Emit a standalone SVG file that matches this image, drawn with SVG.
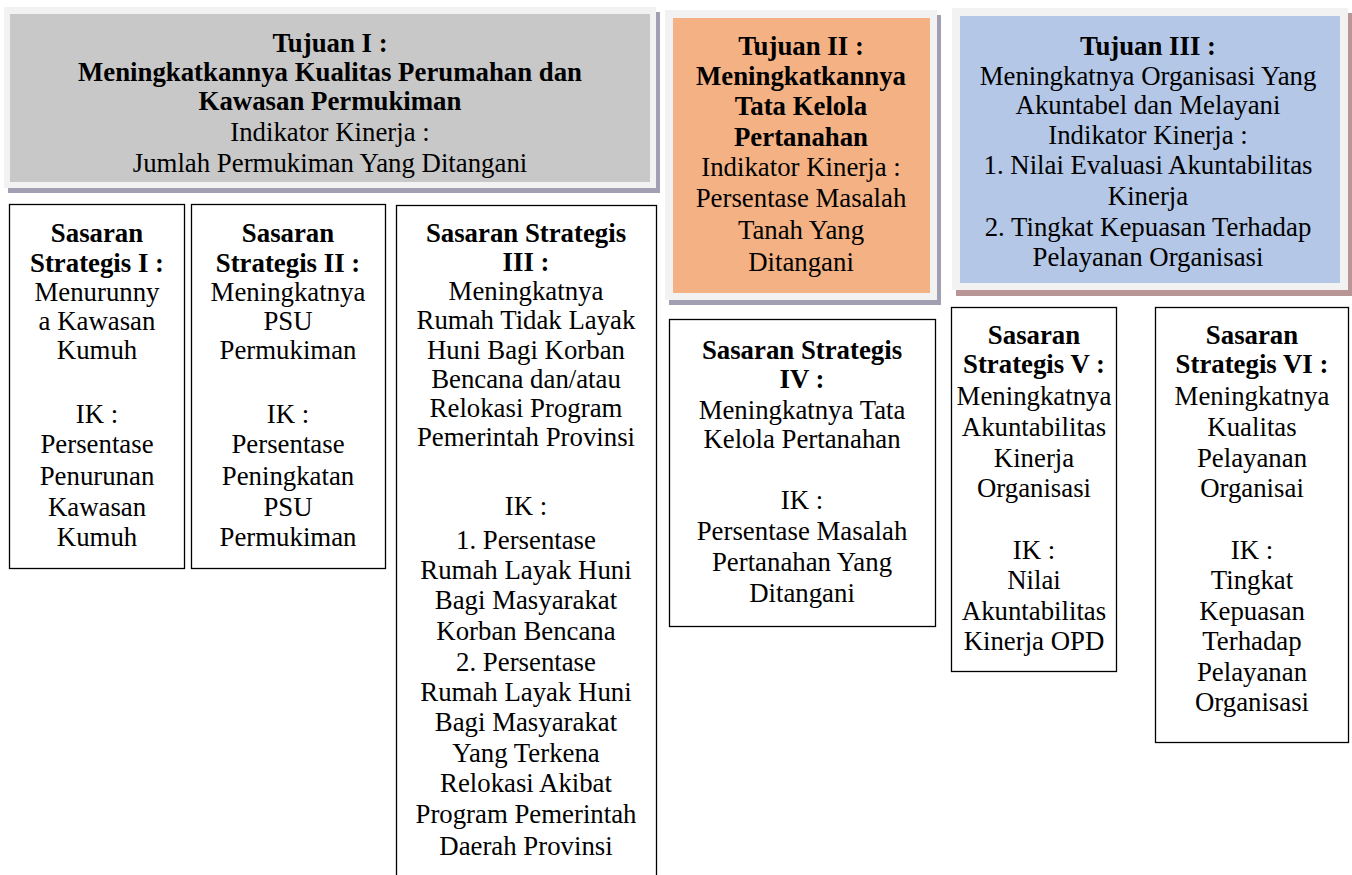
<svg xmlns="http://www.w3.org/2000/svg" width="1352" height="875" viewBox="0 0 1352 875">
<style>
text{font-family:"Liberation Serif","Times New Roman",serif;font-size:26.8px;fill:#000;text-anchor:middle}
.b{font-weight:bold}
.frame{fill:#f2f2f2}
.sh1{fill:#a39fb3}
.sh3{fill:#b89696}
.box{fill:#fff;stroke:#000;stroke-width:1.3}
</style>
<rect width="1352" height="875" fill="#fff"/>
<g id="tujuan1">
<rect class="sh1" x="8" y="12" width="652" height="181"/>
<rect class="frame" x="4" y="7" width="652" height="181"/>
<rect x="10" y="14" width="640" height="168" fill="#c8c8c8"/>
<text class="b" x="330" y="52">Tujuan I :</text>
<text class="b" x="330" y="81">Meningkatkannya Kualitas Perumahan dan</text>
<text class="b" x="330" y="110">Kawasan Permukiman</text>
<text x="330" y="141">Indikator Kinerja :</text>
<text x="330" y="172">Jumlah Permukiman Yang Ditangani</text>
</g>
<g id="tujuan2">
<rect class="sh1" x="669" y="15" width="272" height="290"/>
<rect class="frame" x="665" y="10" width="272" height="290"/>
<rect x="673" y="18" width="257" height="275" fill="#f4b183"/>
<text class="b" x="801" y="55">Tujuan II :</text>
<text class="b" x="801" y="85">Meningkatkannya</text>
<text class="b" x="801" y="115">Tata Kelola</text>
<text class="b" x="801" y="146">Pertanahan</text>
<text x="801" y="176">Indikator Kinerja :</text>
<text x="801" y="207">Persentase Masalah</text>
<text x="801" y="239">Tanah Yang</text>
<text x="801" y="271">Ditangani</text>
</g>
<g id="tujuan3">
<rect class="sh3" x="956" y="13" width="396" height="283"/>
<rect class="frame" x="952" y="8" width="396" height="282"/>
<rect x="960" y="16" width="380" height="267" fill="#b4c7e7"/>
<text class="b" x="1148" y="55">Tujuan III :</text>
<text x="1148" y="85">Meningkatnya Organisasi Yang</text>
<text x="1148" y="114">Akuntabel dan Melayani</text>
<text x="1148" y="144">Indikator Kinerja :</text>
<text x="1148" y="174">1. Nilai Evaluasi Akuntabilitas</text>
<text x="1148" y="205">Kinerja</text>
<text x="1148" y="236">2. Tingkat Kepuasan Terhadap</text>
<text x="1148" y="266">Pelayanan Organisasi</text>
</g>
<g id="ss1">
<rect class="box" x="9.5" y="204.5" width="175" height="364"/>
<text class="b" x="97" y="242">Sasaran</text>
<text class="b" x="97" y="272">Strategis I :</text>
<text x="97" y="301">Menurunny</text>
<text x="97" y="330">a Kawasan</text>
<text x="97" y="359">Kumuh</text>
<text x="97" y="423">IK :</text>
<text x="97" y="453">Persentase</text>
<text x="97" y="485">Penurunan</text>
<text x="97" y="516">Kawasan</text>
<text x="97" y="546">Kumuh</text>
</g>
<g id="ss2">
<rect class="box" x="191.5" y="204.5" width="194" height="364"/>
<text class="b" x="288" y="242">Sasaran</text>
<text class="b" x="288" y="272">Strategis II :</text>
<text x="288" y="301">Meningkatnya</text>
<text x="288" y="330">PSU</text>
<text x="288" y="359">Permukiman</text>
<text x="288" y="423">IK :</text>
<text x="288" y="453">Persentase</text>
<text x="288" y="485">Peningkatan</text>
<text x="288" y="516">PSU</text>
<text x="288" y="546">Permukiman</text>
</g>
<g id="ss3">
<rect class="box" x="396.5" y="205.5" width="260" height="680"/>
<text class="b" x="526" y="242">Sasaran Strategis</text>
<text class="b" x="526" y="271">III :</text>
<text x="526" y="300">Meningkatnya</text>
<text x="526" y="329">Rumah Tidak Layak</text>
<text x="526" y="359">Huni Bagi Korban</text>
<text x="526" y="388">Bencana dan/atau</text>
<text x="526" y="417">Relokasi Program</text>
<text x="526" y="446">Pemerintah Provinsi</text>
<text x="526" y="515">IK :</text>
<text x="526" y="549">1. Persentase</text>
<text x="526" y="579">Rumah Layak Huni</text>
<text x="526" y="609">Bagi Masyarakat</text>
<text x="526" y="640">Korban Bencana</text>
<text x="526" y="671">2. Persentase</text>
<text x="526" y="701">Rumah Layak Huni</text>
<text x="526" y="731">Bagi Masyarakat</text>
<text x="526" y="762">Yang Terkena</text>
<text x="526" y="792">Relokasi Akibat</text>
<text x="526" y="823">Program Pemerintah</text>
<text x="526" y="855">Daerah Provinsi</text>
</g>
<g id="ss4">
<rect class="box" x="669.5" y="319.5" width="266" height="307"/>
<text class="b" x="802" y="359">Sasaran Strategis</text>
<text class="b" x="802" y="388">IV :</text>
<text x="802" y="419">Meningkatnya Tata</text>
<text x="802" y="448">Kelola Pertanahan</text>
<text x="802" y="509">IK :</text>
<text x="802" y="540">Persentase Masalah</text>
<text x="802" y="571">Pertanahan Yang</text>
<text x="802" y="602">Ditangani</text>
</g>
<g id="ss5">
<rect class="box" x="951.5" y="307.5" width="165" height="364"/>
<text class="b" x="1034" y="344">Sasaran</text>
<text class="b" x="1034" y="373">Strategis V :</text>
<text x="1034" y="405">Meningkatnya</text>
<text x="1034" y="436">Akuntabilitas</text>
<text x="1034" y="467">Kinerja</text>
<text x="1034" y="497">Organisasi</text>
<text x="1034" y="559">IK :</text>
<text x="1034" y="589">Nilai</text>
<text x="1034" y="620">Akuntabilitas</text>
<text x="1034" y="650">Kinerja OPD</text>
</g>
<g id="ss6">
<rect class="box" x="1155.5" y="307.5" width="193" height="435"/>
<text class="b" x="1252" y="344">Sasaran</text>
<text class="b" x="1252" y="373">Strategis VI :</text>
<text x="1252" y="405">Meningkatnya</text>
<text x="1252" y="436">Kualitas</text>
<text x="1252" y="467">Pelayanan</text>
<text x="1252" y="497">Organisai</text>
<text x="1252" y="559">IK :</text>
<text x="1252" y="589">Tingkat</text>
<text x="1252" y="620">Kepuasan</text>
<text x="1252" y="650">Terhadap</text>
<text x="1252" y="681">Pelayanan</text>
<text x="1252" y="711">Organisasi</text>
</g>
<g id="connectors"></g>
</svg>
